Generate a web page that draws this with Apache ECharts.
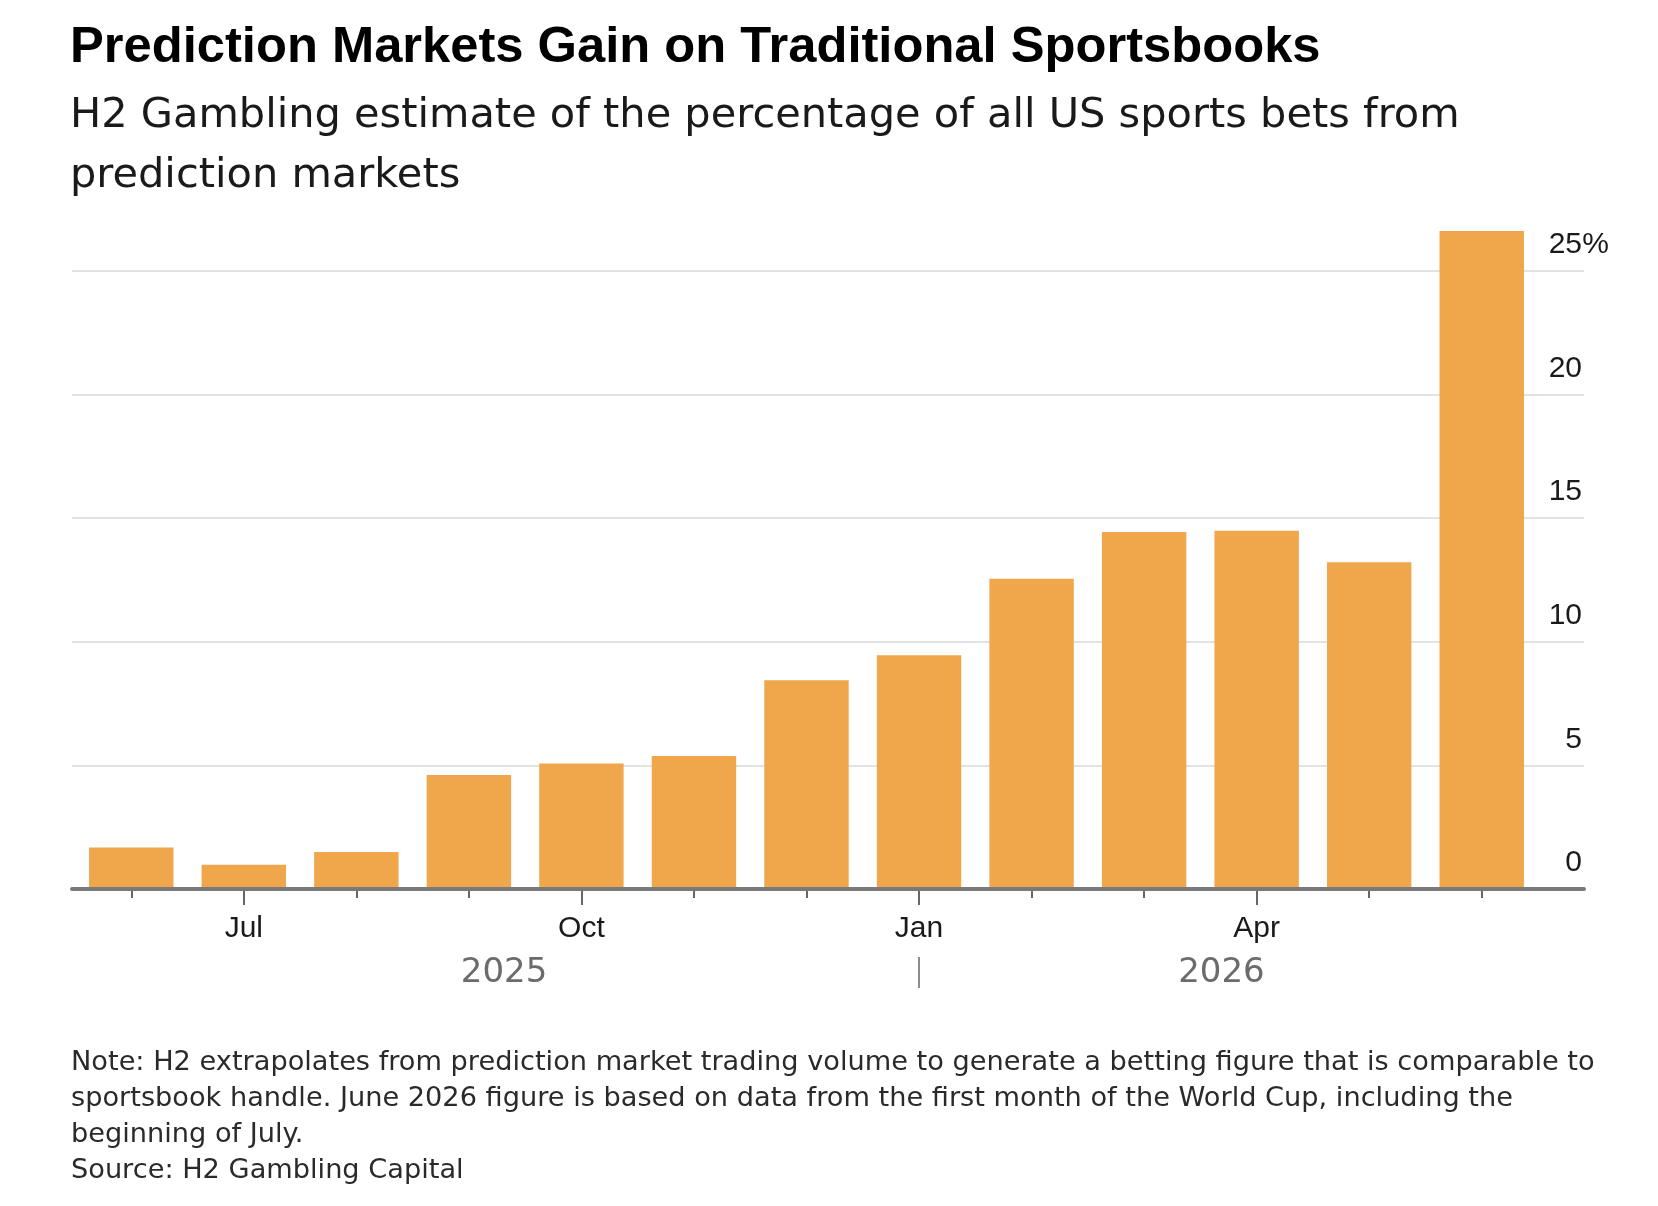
<!DOCTYPE html>
<html>
<head>
<meta charset="utf-8">
<script src="https://cdn.jsdelivr.net/npm/echarts@6/dist/echarts.min.js"></script>
<style>
html,body{margin:0;padding:0;background:#ffffff;}
#chart{width:1658px;height:1206px;}
</style>
</head>
<body>
<div id="chart"></div>
<script>
// ---- data ----
const categories = ['2025-06','2025-07','2025-08','2025-09','2025-10','2025-11','2025-12','2026-01','2026-02','2026-03','2026-04','2026-05','2026-06'];
const shareOfBets = [1.68, 0.98, 1.5, 4.61, 5.08, 5.38, 8.45, 9.46, 12.55, 14.44, 14.49, 13.22, 26.62];
const monthNames = ['Jan','Feb','Mar','Apr','May','Jun','Jul','Aug','Sep','Oct','Nov','Dec'];
const labeledMonths = ['Jan','Apr','Jul','Oct'];
const titleText = 'Prediction Markets Gain on Traditional Sportsbooks';
const subtitleLines = ['H2 Gambling estimate of the percentage of all US sports bets from', 'prediction markets'];
const noteLines = [
  'Note: H2 extrapolates from prediction market trading volume to generate a betting figure that is comparable to',
  'sportsbook handle. June 2026 figure is based on data from the first month of the World Cup, including the',
  'beginning of July.',
  'Source: H2 Gambling Capital'
];

// ---- derived helpers ----
const BAR_FRACTION = 0.75; // bar width as share of a category band
const monthOf = c => monthNames[parseInt(c.slice(5), 10) - 1];
const yearOf = c => c.slice(0, 4);
const years = [...new Set(categories.map(yearOf))];
const n = categories.length;
const yearStarts = years.map(y => categories.findIndex(c => yearOf(c) === y));
// each year label is centred between the outer edge of the first/last bar and the year separator
const yearBounds = years.map((y, i) => [
  i === 0 ? -BAR_FRACTION / 2 : yearStarts[i],
  i < years.length - 1 ? yearStarts[i + 1] : (n - 1) + BAR_FRACTION / 2
]);
const yearCenters = yearBounds.map(b => (b[0] + b[1]) / 2);
const separators = yearStarts.slice(1);

const FONT = 'Liberation Sans, Arial, Helvetica, sans-serif';
const TEXT_FONT = 'DejaVu Sans, Verdana, sans-serif';
const Y_MAX = 27;
const Y_INTERVAL = 5;
const topTick = Math.floor(Y_MAX / Y_INTERVAL) * Y_INTERVAL;
const PCT_W = 27;

const chart = echarts.init(document.getElementById('chart'), null, {renderer: 'canvas'});

const isLabeled = (idx, val) => labeledMonths.indexOf(monthOf(val)) >= 0;

chart.setOption({
  animation: false,
  backgroundColor: '#ffffff',
  title: [
    {
      text: titleText, left: 70, top: 18, padding: 0,
      textStyle: {fontFamily: FONT, fontSize: 50.7, fontWeight: 'bold', color: '#000000', lineHeight: 60}
    },
    {
      text: subtitleLines.join('\n'), left: 70, top: 86.5, padding: 0,
      textStyle: {fontFamily: TEXT_FONT, fontSize: 41.5, fontWeight: 'normal', color: '#1a1a1a', lineHeight: 59.5}
    },
    {
      text: noteLines.join('\n'), left: 71, top: 1045, padding: 0,
      textStyle: {fontFamily: TEXT_FONT, fontSize: 27.2, fontWeight: 'normal', color: '#2a2a2a', lineHeight: 36}
    }
  ],
  grid: [
    {left: 75, right: 120, top: 221.6, bottom: 317, containLabel: false},
    {left: 72, right: 74, top: 221.6, bottom: 317, containLabel: false}
  ],
  xAxis: [
    {
      type: 'category', gridIndex: 0, data: categories, position: 'bottom',
      axisLine: {show: false},
      axisTick: {show: true, alignWithLabel: true, interval: 0, length: 9, lineStyle: {color: '#666666', width: 2}},
      axisLabel: {
        show: true, interval: isLabeled, formatter: v => monthOf(v),
        margin: 40, verticalAlign: 'middle', fontFamily: FONT, fontSize: 30, color: '#1a1a1a'
      },
      splitLine: {show: false}
    },
    {
      type: 'category', gridIndex: 0, data: categories, position: 'bottom',
      axisLine: {show: false},
      axisTick: {show: true, alignWithLabel: true, interval: isLabeled, length: 16, lineStyle: {color: '#666666', width: 2}},
      axisLabel: {show: false},
      splitLine: {show: false}
    },
    {
      type: 'value', gridIndex: 0, min: -0.5, max: n - 0.5, position: 'bottom', offset: 68,
      axisLine: {show: false},
      splitLine: {show: false},
      axisTick: {show: true, customValues: separators, length: 31, lineStyle: {color: '#8c8c8c', width: 2}},
      axisLabel: {
        show: true, customValues: yearCenters,
        formatter: v => {
          const i = yearCenters.findIndex(c => Math.abs(c - v) < 1e-6);
          return i >= 0 ? years[i] : '';
        },
        margin: 16.5, verticalAlign: 'middle', fontFamily: TEXT_FONT, fontSize: 34, color: '#6b6b6b'
      }
    },
    {
      type: 'value', gridIndex: 1, min: 0, max: 1, position: 'bottom', z: 5,
      axisLine: {show: true, onZero: false, lineStyle: {color: '#7a7a7a', width: 4}},
      axisTick: {show: false},
      axisLabel: {show: false},
      splitLine: {show: false}
    }
  ],
  yAxis: [
    {type: 'value', gridIndex: 0, min: 0, max: Y_MAX, show: false},
    {
      type: 'value', gridIndex: 1, min: 0, max: Y_MAX, interval: Y_INTERVAL, position: 'right',
      axisLine: {show: false},
      axisTick: {show: false},
      splitLine: {show: true, showMaxLine: false, lineStyle: {color: '#e2e2e2', width: 2}},
      axisLabel: {
        inside: true, margin: -(PCT_W - 2), showMaxLabel: false,
        fontFamily: FONT, fontSize: 30, color: '#1a1a1a',
        verticalAlign: 'bottom', lineHeight: 52,
        formatter: v => '{n|' + v + '}' + (v === topTick ? '{p|%}' : '{p| }'),
        rich: {
          n: {fontFamily: FONT, fontSize: 30, color: '#1a1a1a', lineHeight: 52},
          p: {fontFamily: FONT, fontSize: 30, color: '#1a1a1a', lineHeight: 52, width: PCT_W, align: 'left'}
        }
      }
    }
  ],
  series: [
    {
      type: 'bar', xAxisIndex: 0, yAxisIndex: 0, data: shareOfBets,
      barWidth: (BAR_FRACTION * 100) + '%',
      itemStyle: {color: '#f0a64a'},
      emphasis: {disabled: true}
    }
  ]
});
</script>
</body>
</html>
